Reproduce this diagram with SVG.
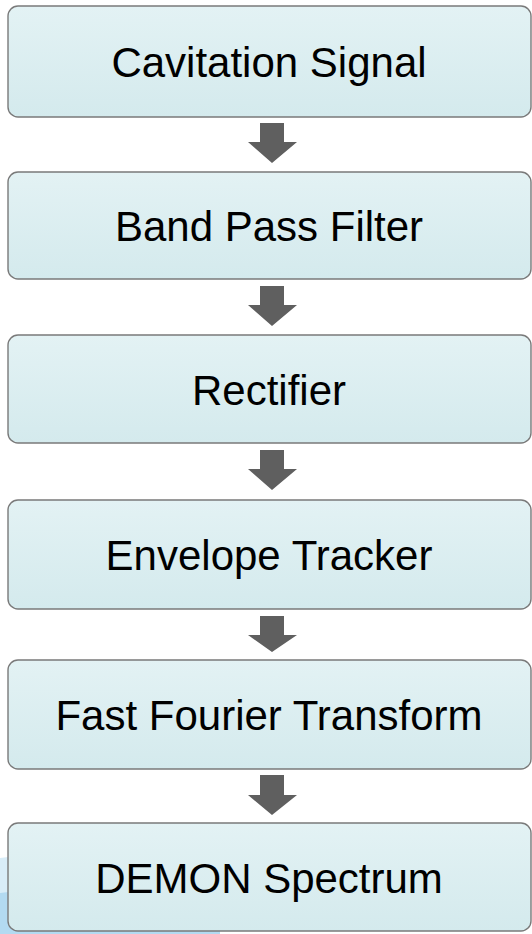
<svg xmlns="http://www.w3.org/2000/svg" width="532" height="934" viewBox="0 0 532 934">
  <defs>
    <linearGradient id="boxFill" x1="0" y1="0" x2="0" y2="1">
      <stop offset="0" stop-color="#e3f2f4"/>
      <stop offset="1" stop-color="#d4eaed"/>
    </linearGradient>
    <style>
      .box { fill: url(#boxFill); stroke: #7a7a7a; stroke-width: 1.4; }
      .label { font-family: "Liberation Sans", Arial, sans-serif; font-size: 42px; fill: #000; text-anchor: middle; }
      .arrow { fill: #5f5f5f; }
    </style>
  </defs>
  <rect width="532" height="934" fill="#ffffff"/>
  <g id="background-swoosh">
    <path d="M0,858 Q70,848 200,872 L200,934 L0,934 Z" fill="#d9edf8"/>
    <path d="M0,893 Q90,880 220,902 L220,934 L0,934 Z" fill="#b3daf1"/>
  </g>
  <g id="connectors">
    <path class="arrow" d="M260,123 H284 V142 H297 L272,163 L248,142 H260 Z"/>
    <path class="arrow" d="M260,286 H284 V305 H297 L272,326 L248,305 H260 Z"/>
    <path class="arrow" d="M260,450 H284 V469 H297 L272,490 L248,469 H260 Z"/>
    <path class="arrow" d="M260,616 H284 V635 H297 L272,652 L248,635 H260 Z"/>
    <path class="arrow" d="M260,775 H284 V795 H297 L272,815 L248,795 H260 Z"/>
  </g>
  <g id="node-cavitation-signal">
    <rect class="box" x="8" y="6" width="523" height="111" rx="10"/>
    <text class="label" x="269" y="77">Cavitation Signal</text>
  </g>
  <g id="node-band-pass-filter">
    <rect class="box" x="8" y="172" width="523" height="107" rx="10"/>
    <text class="label" x="269" y="241">Band Pass Filter</text>
  </g>
  <g id="node-rectifier">
    <rect class="box" x="8" y="335" width="523" height="108" rx="10"/>
    <text class="label" x="269" y="405">Rectifier</text>
  </g>
  <g id="node-envelope-tracker">
    <rect class="box" x="8" y="500" width="523" height="109" rx="10"/>
    <text class="label" x="269" y="570">Envelope Tracker</text>
  </g>
  <g id="node-fft">
    <rect class="box" x="8" y="660" width="523" height="109" rx="10"/>
    <text class="label" x="269" y="730">Fast Fourier Transform</text>
  </g>
  <g id="node-demon-spectrum">
    <rect class="box" x="8" y="823" width="523" height="108" rx="10"/>
    <text class="label" x="269" y="893">DEMON Spectrum</text>
  </g>
</svg>
